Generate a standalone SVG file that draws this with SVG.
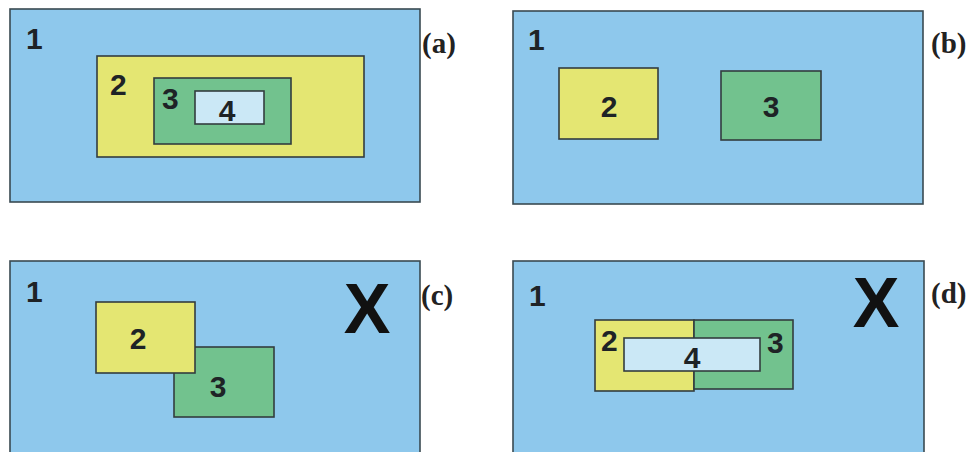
<svg xmlns="http://www.w3.org/2000/svg" width="976" height="452" viewBox="0 0 976 452">
<style>
.bg{fill:#8ec8ec;stroke:#3a4a52;stroke-width:1.6}
.y{fill:#e4e672;stroke:#333d3f;stroke-width:1.6}
.g{fill:#72c28e;stroke:#333d3f;stroke-width:1.6}
.l{fill:#cbe8f6;stroke:#333d3f;stroke-width:1.6}
.n{font-family:"Liberation Sans",Arial,sans-serif;font-weight:bold;font-size:30px;fill:#1e2326}
.one{font-size:30px}
.x{font-family:"Liberation Sans",Arial,sans-serif;font-weight:bold;font-size:70px;fill:#111;text-anchor:middle}
.lab{font-family:"Liberation Serif","Times New Roman",serif;font-weight:bold;font-size:29px;fill:#222}
.c{text-anchor:middle}
</style>
<rect width="976" height="452" fill="#ffffff"/>
<g id="panel-a">
  <g id="a1"><rect class="bg" x="10" y="9" width="410" height="193"/><text class="n one" x="26" y="49">1</text></g>
  <g id="a2"><rect class="y" x="97" y="56" width="267" height="101"/><text class="n" x="110" y="95">2</text></g>
  <g id="a3"><rect class="g" x="154" y="78" width="137" height="66"/><text class="n" x="162" y="109">3</text></g>
  <g id="a4"><rect class="l" x="195" y="91" width="69" height="33"/><text class="n c" x="227" y="121">4</text></g>
  <text class="lab" x="422" y="53">(a)</text>
</g>
<g id="panel-b">
  <g id="b1"><rect class="bg" x="513" y="11" width="410" height="193"/><text class="n one" x="528" y="50">1</text></g>
  <g id="b2"><rect class="y" x="559" y="68" width="99" height="71"/><text class="n c" x="609" y="117">2</text></g>
  <g id="b3"><rect class="g" x="721" y="71" width="100" height="69"/><text class="n c" x="771" y="117">3</text></g>
  <text class="lab" x="931" y="53">(b)</text>
</g>
<g id="panel-c">
  <g id="c1"><rect class="bg" x="10" y="261" width="410" height="200"/><text class="n one" x="26" y="302">1</text></g>
  <g id="c3"><rect class="g" x="174" y="347" width="100" height="70"/><text class="n c" x="218" y="397">3</text></g>
  <g id="c2"><rect class="y" x="96" y="302" width="99" height="71"/><text class="n c" x="138" y="349">2</text></g>
  <text class="x" x="367" y="333">X</text>
  <text class="lab" x="421" y="305">(c)</text>
</g>
<g id="panel-d">
  <g id="d1"><rect class="bg" x="513" y="261" width="411" height="200"/><text class="n one" x="529" y="306">1</text></g>
  <g id="d2"><rect class="y" x="595" y="320" width="99" height="71"/><text class="n" x="601" y="351">2</text></g>
  <g id="d3"><rect class="g" x="694" y="320" width="99" height="69"/><text class="n" x="767" y="353">3</text></g>
  <g id="d4"><rect class="l" x="624" y="338" width="136" height="33"/><text class="n c" x="692" y="368">4</text></g>
  <text class="x" x="876" y="327">X</text>
  <text class="lab" x="931" y="303">(d)</text>
</g>
</svg>
